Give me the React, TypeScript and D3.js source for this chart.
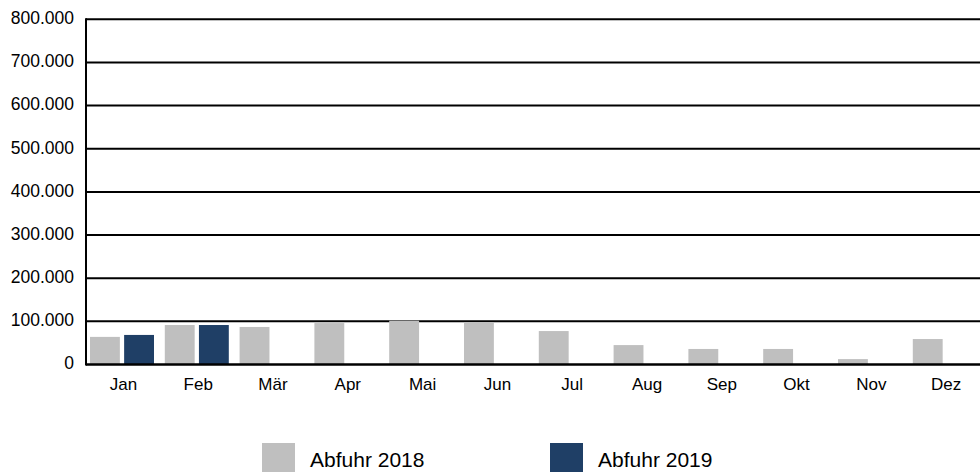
import React, { useEffect, useRef } from 'react';
import * as d3 from 'd3';

const months = ["Jan", "Feb", "Mär", "Apr", "Mai", "Jun", "Jul", "Aug", "Sep", "Okt", "Nov", "Dez"];
const abfuhr2018 = [64000, 91500, 87000, 96000, 101500, 97000, 77500, 45000, 36000, 36000, 12500, 59000];
const abfuhr2019 = [68500, 91500];
const yTicks = [0, 100000, 200000, 300000, 400000, 500000, 600000, 700000, 800000];
const seriesNames = ["Abfuhr 2018", "Abfuhr 2019"];
const colors = ["#bfbfbf", "#1f3f66"];

const App = () => {
    const ref = useRef<SVGSVGElement>(null);

    useEffect(() => {
        const svg = d3.select(ref.current);
        svg.selectAll("*").remove();

        const left = 86, right = 983.6, top = 19.3, bottom = 364.5;
        const font = "Arial, 'Liberation Sans', sans-serif";

        const x0 = d3.scaleBand().domain(months).range([left, right]);
        const x1 = d3.scaleBand()
            .domain(seriesNames)
            .range([4, 68])
            .paddingInner(0.125);
        const y = d3.scaleLinear().domain([0, 800000]).range([bottom, top]);

        const fmt = (v: number) => v === 0 ? "0" : d3.format(",")(v).replace(/,/g, ".");

        // gridlines
        svg.append("g")
            .selectAll("line")
            .data(yTicks.slice(1))
            .enter().append("line")
            .attr("x1", left).attr("x2", 980)
            .attr("y1", d => y(d)).attr("y2", d => y(d))
            .attr("stroke", "#000")
            .attr("stroke-width", 2);

        // y labels
        svg.append("g")
            .selectAll("text")
            .data(yTicks)
            .enter().append("text")
            .attr("x", 74)
            .attr("y", d => y(d) + 4.8)
            .attr("text-anchor", "end")
            .attr("font-family", font)
            .attr("font-size", 17.5)
            .attr("fill", "#000")
            .text(d => fmt(d));

        // bars
        const series = [abfuhr2018, abfuhr2019];
        series.forEach((vals, si) => {
            svg.append("g")
                .selectAll("rect")
                .data(vals)
                .enter().append("rect")
                .attr("x", (d, i) => (x0(months[i]) as number) + (x1(seriesNames[si]) as number))
                .attr("y", d => y(d))
                .attr("width", x1.bandwidth())
                .attr("height", d => bottom - y(d))
                .attr("fill", colors[si]);
        });

        // axes lines
        svg.append("line")
            .attr("x1", left).attr("x2", 980)
            .attr("y1", bottom).attr("y2", bottom)
            .attr("stroke", "#000").attr("stroke-width", 2.5);
        svg.append("line")
            .attr("x1", left).attr("x2", left)
            .attr("y1", top - 1).attr("y2", bottom + 1)
            .attr("stroke", "#000").attr("stroke-width", 2);

        // month labels
        svg.append("g")
            .selectAll("text")
            .data(months)
            .enter().append("text")
            .attr("x", d => (x0(d) as number) + x0.bandwidth() / 2)
            .attr("y", 390)
            .attr("text-anchor", "middle")
            .attr("font-family", font)
            .attr("font-size", 17)
            .attr("fill", "#000")
            .text(d => d);

        // legend
        const legendX = [262, 550];
        const lg = svg.append("g")
            .selectAll("g")
            .data(seriesNames)
            .enter().append("g")
            .attr("transform", (d, i) => `translate(${legendX[i]},443)`);
        lg.append("rect")
            .attr("width", 33).attr("height", 33)
            .attr("fill", (d, i) => colors[i]);
        lg.append("text")
            .attr("x", 48)
            .attr("y", 23.7)
            .attr("font-family", font)
            .attr("font-size", 21)
            .attr("fill", "#000")
            .text(d => d);
    }, []);

    return (
        <svg ref={ref} width={980} height={472}
            style={{ position: "absolute", left: 0, top: 0, background: "#fff" }}></svg>
    );
};

export default App;
